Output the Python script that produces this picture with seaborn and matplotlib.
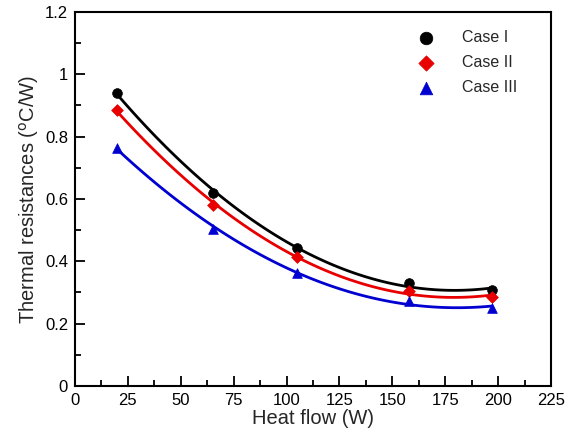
import matplotlib
matplotlib.use("Agg")
import matplotlib.pyplot as plt
import seaborn as sns
import numpy as np
import pandas as pd
from matplotlib.ticker import MultipleLocator, FuncFormatter

heat_flow = [20, 65, 105, 158, 197]
case1 = [0.94, 0.62, 0.443, 0.33, 0.308]
case2 = [0.885, 0.58, 0.414, 0.305, 0.286]
case3 = [0.764, 0.504, 0.363, 0.273, 0.25]
labels = ["Case I", "Case II", "Case III"]
colors = ["#000000", "#e80000", "#0000d0"]
markers = ["o", "D", "^"]

sns.set_style("white")
plt.rcParams['font.family'] = ['Liberation Sans', 'DejaVu Sans']

fig = plt.figure(figsize=(5.74, 4.43), dpi=100)
ax = fig.add_axes([0.1307, 0.1287, 0.8293, 0.8443])

msizes = [7, 6, 7]
for vals, lab, c, m, ms in zip([case1, case2, case3], labels, colors, markers, msizes):
    df = pd.DataFrame({"x": heat_flow, "y": vals})
    sns.regplot(data=df, x="x", y="y", order=2, ci=None, truncate=True, ax=ax,
                scatter=False, line_kws=dict(color=c, lw=2))
    sns.scatterplot(data=df, x="x", y="y", ax=ax, color=c, marker=m, s=ms**2,
                    edgecolor=c, linewidth=0.5, label=lab, zorder=5)

ax.set_xlim(0, 225)
ax.set_ylim(0, 1.2)
ax.xaxis.set_major_locator(MultipleLocator(25))
ax.xaxis.set_minor_locator(MultipleLocator(12.5))
ax.yaxis.set_major_locator(MultipleLocator(0.2))
ax.yaxis.set_minor_locator(MultipleLocator(0.1))
ax.yaxis.set_major_formatter(FuncFormatter(lambda v, p: f"{v:g}"))
ax.tick_params(which="both", direction="in", top=False, right=False, left=True, bottom=True,
               labelsize=12, colors="black")
ax.tick_params(which="major", length=7, width=1.3, pad=5)
ax.tick_params(which="minor", length=4, width=1.3)
for s in ax.spines.values():
    s.set_color("black")
    s.set_linewidth(1.5)

ax.set_xlabel("Heat flow (W)", fontsize=14.5, labelpad=1)
ax.set_ylabel("Thermal resistances ($^{\\rm o}$C/W)", fontsize=14.5, labelpad=3)

leg = ax.legend(loc="upper right", bbox_to_anchor=(0.96, 0.99), frameon=False, fontsize=11.5,
                handletextpad=1.3, labelspacing=0.62, markerscale=1.3)

fig.savefig("out.png", dpi=100)
